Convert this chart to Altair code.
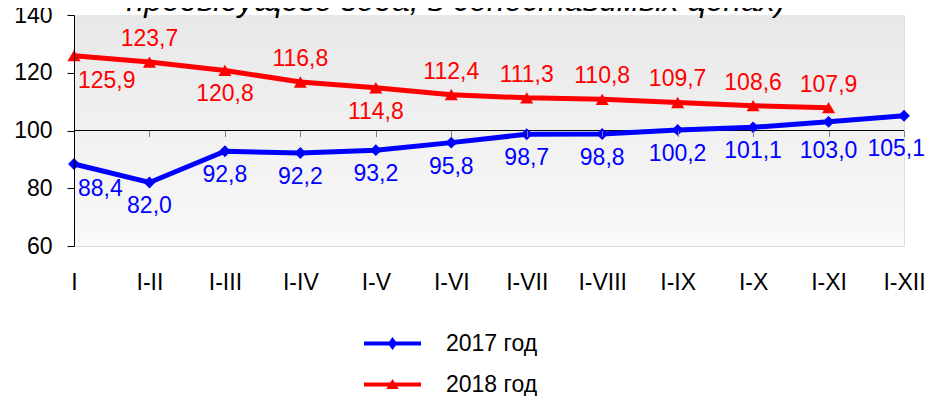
import altair as alt
import pandas as pd

# ---------------- data ----------------
periods = ["I", "I-II", "I-III", "I-IV", "I-V", "I-VI", "I-VII", "I-VIII",
           "I-IX", "I-X", "I-XI", "I-XII"]
values_2017 = [88.4, 82.0, 92.8, 92.2, 93.2, 95.8, 98.7, 98.8, 100.2, 101.1, 103.0, 105.1]
values_2018 = [125.9, 123.7, 120.8, 116.8, 114.8, 112.4, 111.3, 110.8, 109.7, 108.6, 107.9]
series_names = ["2017 год", "2018 год"]
series_colors = ["#0000ff", "#ff0000"]
# where each data label sits relative to its point
place_2017 = ["below_start", "below", "below", "below", "below", "below", "below",
              "below", "below", "below", "below_far", "below_end"]
place_2018 = ["below_start", "above", "below", "above", "below", "above", "above",
              "above", "above", "above", "above"]
y_ticks = [60, 80, 100, 120, 140]
title_text = "предыдущего года, в сопоставимых ценах)"

FONT = "Liberation Sans"
FS = 23

rows = []
for name, vals, places in [(series_names[0], values_2017, place_2017),
                           (series_names[1], values_2018, place_2018)]:
    for p, v, pl in zip(periods, vals, places):
        rows.append({"period": p, "series": name, "value": v,
                     "label": f"{v:.1f}".replace(".", ","), "place": pl})
df = pd.DataFrame(rows)

# ---------------- encodings ----------------
x_enc = alt.X("period:N", sort=periods,
              scale=alt.Scale(type="point", domain=periods, padding=0),
              axis=alt.Axis(orient="bottom", offset=-115.5, domain=False,
                            tickColor="#808080", tickSize=6, tickWidth=1,
                            labelPadding=135, labelFontSize=FS, labelFont=FONT,
                            labelColor="black", labelAngle=0, grid=False,
                            title=None, labelOverlap=False, zindex=1))
y_enc = alt.Y("value:Q",
              scale=alt.Scale(domain=[60, 140], nice=False, zero=False),
              axis=alt.Axis(values=y_ticks, domainColor="black", domainWidth=1,
                            tickColor="black", tickSize=7, tickWidth=1,
                            labelPadding=15, labelFontSize=FS, labelFont=FONT,
                            labelColor="black", grid=False, title=None, zindex=1))

# plot background gradient
bg = alt.Chart(pd.DataFrame({"a": [0]})).mark_rect(
    color=alt.Gradient(gradient="linear",
                       stops=[alt.GradientStop(color="#e8e8e8", offset=0),
                              alt.GradientStop(color="#f9f9f9", offset=1)],
                       x1=0, x2=0, y1=0, y2=1)
).encode(x=alt.value(0), x2=alt.value("width"), y=alt.value(0), y2=alt.value("height"))

base_line = alt.Chart(pd.DataFrame({"v": [100]})).mark_rule(
    color="black", strokeWidth=1).encode(y=alt.datum(100))

# title line (top of the original title, clipped by the page edge)
title_mark = alt.Chart(pd.DataFrame({"t": [title_text]})).mark_text(
    font=FONT, fontSize=32, fontStyle="italic", color="black",
    align="center", baseline="alphabetic"
).encode(x=alt.value(382), y=alt.value(-4), text="t:N")

layers = [bg, base_line]

shapes = {series_names[0]: ("diamond", 140), series_names[1]: ("triangle-up", 170)}
for name, color in zip(series_names, series_colors):
    sub = alt.Chart(df).transform_filter(alt.datum.series == name)
    layers.append(sub.mark_line(color=color, strokeWidth=5).encode(x=x_enc, y=y_enc))
    shp, sz = shapes[name]
    layers.append(sub.mark_point(shape=shp, size=sz, filled=True, color=color,
                                 opacity=1).encode(x=x_enc, y=y_enc))

label_styles = {
    "above": dict(align="center", dx=0, dy=-23),
    "below": dict(align="center", dx=0, dy=24),
    "below_start": dict(align="left", dx=4, dy=25),
    "below_far": dict(align="center", dx=0, dy=29),
    "below_end": dict(align="right", dx=21, dy=33),
}
for name, color in zip(series_names, series_colors):
    for pl, st in label_styles.items():
        sub = alt.Chart(df).transform_filter(
            (alt.datum.series == name) & (alt.datum.place == pl))
        layers.append(sub.mark_text(font=FONT, fontSize=FS, color=color,
                                    baseline="middle", **st).encode(
            x=x_enc, y=y_enc, text="label:N"))

# legend: line + marker symbols
legend_paths = [
    "M-2.85,-0.2H2.85V0.2H-2.85Z M0,-0.65L0.48,0L0,0.65L-0.48,0Z",
    "M-2.85,-0.2H2.85V0.2H-2.85Z M0,-0.55L0.62,0.45H-0.62Z",
]
leg = alt.Legend(orient="none", legendX=307, legendY=317, title=None,
                 labelFontSize=FS, labelFont=FONT, labelColor="black",
                 symbolSize=400, symbolOpacity=1, symbolStrokeWidth=0,
                 labelOffset=42, rowPadding=17, padding=0, labelLimit=0)
legend_layer = alt.Chart(df).mark_point(filled=True, opacity=0).encode(
    x=x_enc, y=y_enc,
    color=alt.Color("series:N", scale=alt.Scale(domain=series_names, range=series_colors),
                    legend=leg),
    shape=alt.Shape("series:N", scale=alt.Scale(domain=series_names, range=legend_paths),
                    legend=leg),
)
layers.append(legend_layer)
layers.append(title_mark)

chart = alt.layer(*layers).properties(
    width=830, height=231,
    autosize=alt.AutoSizeParams(type="none"),
    padding={"left": 66, "top": 7, "right": 21, "bottom": 150},
).configure_view(stroke=None).configure(background="white")

chart.save("out.html", embed_options={"renderer": "svg", "actions": False})
